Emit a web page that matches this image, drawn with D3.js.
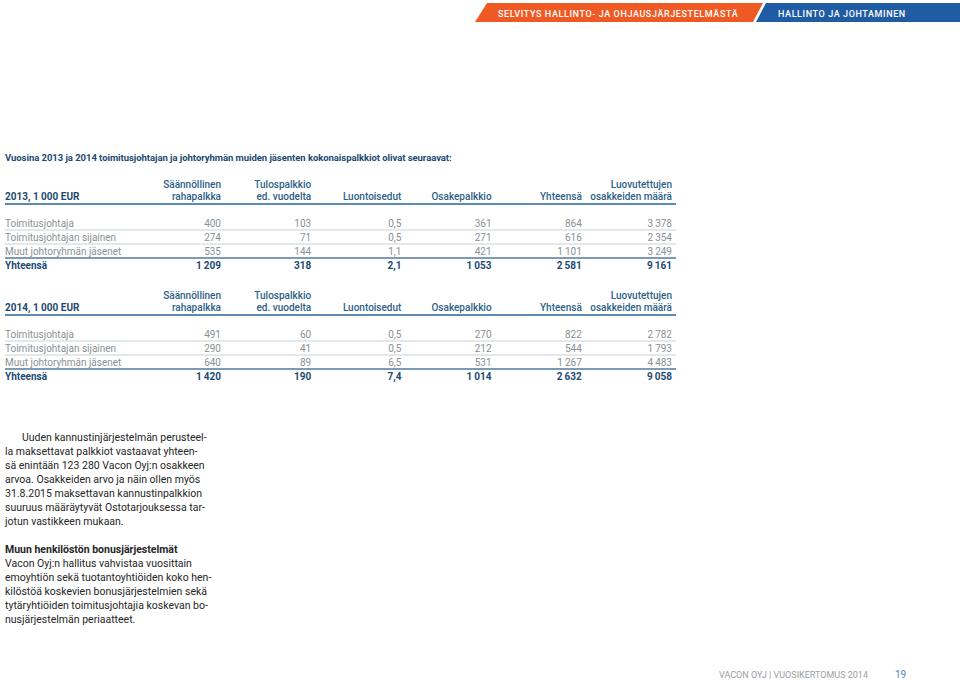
<!DOCTYPE html>
<html><head><meta charset="utf-8">
<script src="https://cdn.jsdelivr.net/npm/d3@7"></script>
<style>
html,body{margin:0;padding:0;background:#fff;}
svg{display:block;font-family:Roboto,"DejaVu Sans",sans-serif;}
</style></head>
<body>
<svg id="c" width="960" height="680"></svg>
<script>
// ---- data ----
const bannerLeft = "SELVITYS HALLINTO- JA OHJAUSJÄRJESTELMÄSTÄ";
const bannerRight = "HALLINTO JA JOHTAMINEN";
const introText = "Vuosina 2013 ja 2014 toimitusjohtajan ja johtoryhmän muiden jäsenten kokonaispalkkiot olivat seuraavat:";
const columnHeaders = [
  ["Säännöllinen","rahapalkka"],
  ["Tulospalkkio","ed. vuodelta"],
  ["","Luontoisedut"],
  ["","Osakepalkkio"],
  ["","Yhteensä"],
  ["Luovutettujen","osakkeiden määrä"]
];
const rowLabels = ["Toimitusjohtaja","Toimitusjohtajan sijainen","Muut johtoryhmän jäsenet","Yhteensä"];
const tableTitles = ["2013, 1 000 EUR","2014, 1 000 EUR"];
const values2013 = [
  [400,103,0.5,361,864,3378],
  [274,71,0.5,271,616,2354],
  [535,144,1.1,421,1101,3249],
  [1209,318,2.1,1053,2581,9161]
];
const values2014 = [
  [491,60,0.5,270,822,2782],
  [290,41,0.5,212,544,1793],
  [640,89,6.5,531,1267,4483],
  [1420,190,7.4,1014,2632,9058]
];
const paragraph1 = [
  "Uuden kannustinjärjestelmän perusteel-",
  "la maksettavat palkkiot vastaavat yhteen-",
  "sä enintään 123 280 Vacon Oyj:n osakkeen",
  "arvoa. Osakkeiden arvo ja näin ollen myös",
  "31.8.2015 maksettavan kannustinpalkkion",
  "suuruus määräytyvät Ostotarjouksessa tar-",
  "jotun vastikkeen mukaan."
];
const paragraph2Title = "Muun henkilöstön bonusjärjestelmät";
const paragraph2 = [
  "Vacon Oyj:n hallitus vahvistaa vuosittain",
  "emoyhtiön sekä tuotantoyhtiöiden koko hen-",
  "kilöstöä koskevien bonusjärjestelmien sekä",
  "tytäryhtiöiden toimitusjohtajia koskevan bo-",
  "nusjärjestelmän periaatteet."
];
const footerText = "VACON OYJ | VUOSIKERTOMUS 2014";
const pageNumber = "19";

// ---- drawing ----
const svg = d3.select("#c");
const orange = "#ef5a24", blue = "#1f5ca3";
const navy = "#1d4a72", grayTxt = "#8b9094";

// banner
svg.append("polygon").attr("points","487,3 763,3 753,22 475,22").attr("fill",orange);
svg.append("polygon").attr("points","766,3 960,3 960,22 756,22").attr("fill",blue);
svg.append("text").attr("x",498).attr("y",16.5).attr("fill","#fff")
  .attr("font-size",9).attr("font-weight",500).attr("letter-spacing",0.6).text(bannerLeft);
svg.append("text").attr("x",778).attr("y",16.5).attr("fill","#fff")
  .attr("font-size",9).attr("font-weight",500).attr("letter-spacing",0.6).text(bannerRight);

svg.append("text").attr("x",5).attr("y",161).attr("fill",navy)
  .attr("font-size",9.5).attr("font-weight",700).attr("letter-spacing",-0.05).text(introText);

const fi = d3.formatLocale({decimal:",",thousands:"\u2009",grouping:[3],currency:["","€"]});
const fmtInt = fi.format(",d"), fmtDec = fi.format(",.1f");
const fmt = v => Number.isInteger(v) ? fmtInt(v) : fmtDec(v);

const x = d3.scalePoint().domain(d3.range(columnHeaders.length)).range([221,672]);

function drawTable(top, title, values){
  const g = svg.append("g").attr("transform",`translate(0,${top})`);
  g.append("text").attr("x",5).attr("y",3.5).attr("fill",navy)
    .attr("font-size",10).attr("font-weight",700).text(title);
  columnHeaders.forEach((h,i)=>{
    const t = g.append("text").attr("text-anchor","end").attr("fill","#2d5f88")
      .attr("font-size",10).attr("font-weight",500);
    t.append("tspan").attr("x",x(i)).attr("y",-8.5).text(h[0]);
    t.append("tspan").attr("x",x(i)).attr("y",3.5).text(h[1]);
  });
  g.append("line").attr("x1",5).attr("x2",676).attr("y1",7.5).attr("y2",7.5)
    .attr("stroke","#5f8ab0").attr("stroke-width",2);
  const y = d3.scalePoint().domain(d3.range(rowLabels.length)).range([30.5,72.5]);
  rowLabels.forEach((lab,r)=>{
    const isTot = r===rowLabels.length-1;
    g.append("text").attr("x",5).attr("y",y(r)).attr("fill",isTot?navy:grayTxt)
      .attr("font-size",10).attr("font-weight",isTot?700:400).text(lab);
    values[r].forEach((v,i)=>{
      g.append("text").attr("x",x(i)).attr("y",y(r)).attr("text-anchor","end")
        .attr("fill",isTot?navy:grayTxt).attr("font-size",10)
        .attr("font-weight",isTot?700:400).text(fmt(v));
    });
    if(r < rowLabels.length-1){
      const ly = y(r)+3;
      g.append("line").attr("x1",5).attr("x2",676).attr("y1",ly).attr("y2",ly)
        .attr("stroke", r===rowLabels.length-2 ? "#7d9bb7" : "#c9d2da")
        .attr("stroke-width", r===rowLabels.length-2 ? 2 : 1.2);
    }
  });
}
drawTable(196.5, tableTitles[0], values2013);
drawTable(307.5, tableTitles[1], values2014);

// paragraphs
const pg = svg.append("g").attr("font-size",10.5).attr("fill","#262626");
paragraph1.forEach((l,i)=>{
  pg.append("text").attr("x", i===0?22:5).attr("y",441+i*14).text(l);
});
pg.append("text").attr("x",5).attr("y",553).attr("font-weight",700).text(paragraph2Title);
paragraph2.forEach((l,i)=>{
  pg.append("text").attr("x",5).attr("y",567+i*14).text(l);
});

svg.append("text").attr("x",868).attr("y",677.5).attr("text-anchor","end")
  .attr("fill","#9a9ea2").attr("font-size",9).text(footerText);
svg.append("text").attr("x",895).attr("y",677.5).attr("fill","#4f86b8")
  .attr("font-size",10).text(pageNumber);
</script>
</body></html>
